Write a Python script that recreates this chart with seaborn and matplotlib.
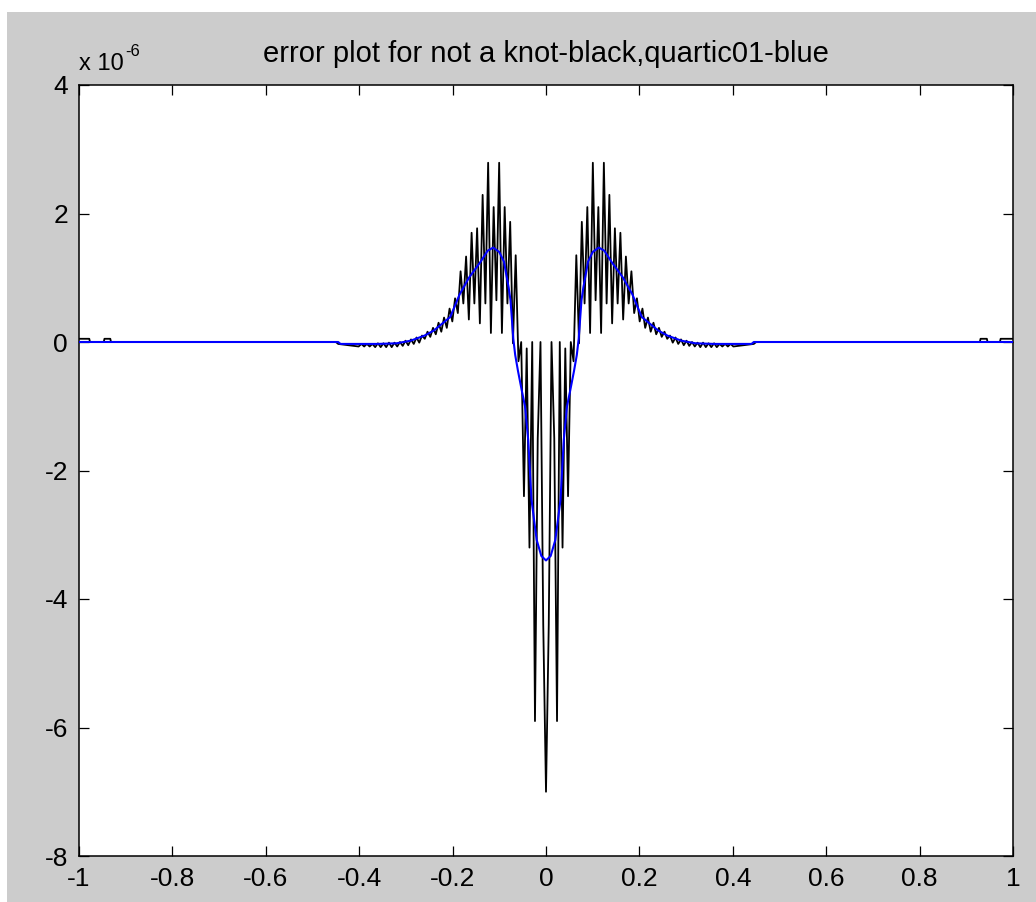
import numpy as np
import pandas as pd
import matplotlib
matplotlib.use("Agg")
import matplotlib.pyplot as plt
from matplotlib.patches import Rectangle
import seaborn as sns

# ---------------- data (error values in units of 1e-6) ----------------
# "not a knot" spline error: outer flat parts
knot_left_x = [-1.0, -0.978, -0.9765, -0.947, -0.9455, -0.933, -0.9315, -0.45, -0.445]
knot_left_y = [0.05, 0.05, 0.0, 0.0, 0.05, 0.05, 0.0, 0.0, -0.03]
knot_right_x = [0.445, 0.45, 0.929, 0.9305, 0.944, 0.9455, 0.972, 0.9735, 0.994, 1.0]
knot_right_y = [-0.03, 0.0, 0.0, 0.05, 0.05, 0.0, 0.0, 0.05, 0.05, 0.05]

# fine sampling of the oscillating core, |x| <= 0.4012
core_lo, core_hi, core_n = -0.4012, 0.4012, 137
knot_core_left = [
    -0.07, -0.03, -0.07, -0.03, -0.07, -0.03,
    -0.08, -0.02, -0.08, -0.02, -0.08, -0.01,
    -0.08, -0.01, -0.07, 0.00, -0.06, 0.02,
    -0.05, 0.04, -0.03, 0.07, -0.01, 0.10,
    0.05, 0.16, 0.08, 0.22, 0.12, 0.30, 0.16, 0.38,
    0.22, 0.52, 0.32, 0.68, 0.45, 1.10, 0.60, 1.33,
    0.35, 1.70, 0.60, 1.77, 0.29, 2.29, 0.60, 2.79,
    0.14, 2.10, 0.65, 2.79, 0.14, 2.10, 0.60, 1.87,
    -0.02, 1.35, -0.30, 0.00, -2.40, -0.10, -3.20, 0.00,
    -5.90, -1.50, 0.00, -4.40,
]
knot_core_mid = [-7.00]
knot_core_right = [
    -4.40, 0.00, -1.50, -5.90,
    0.00, -3.20, -0.10, -2.40, 0.00, -0.30, 1.35, -0.02,
    1.87, 0.60, 2.10, 0.14, 2.79, 0.65, 2.10, 0.14,
    2.79, 0.60, 2.29, 0.29, 1.77, 0.60, 1.70, 0.35,
    1.33, 0.60, 1.10, 0.45, 0.68, 0.32, 0.52, 0.22,
    0.38, 0.16, 0.30, 0.12, 0.22, 0.08, 0.16, 0.05,
    0.10, -0.01, 0.07, -0.03, 0.04, -0.05,
    0.02, -0.06, 0.00, -0.07, -0.01, -0.08,
    -0.01, -0.08, -0.02, -0.08, -0.02, -0.08,
    -0.03, -0.07, -0.03, -0.07, -0.03, -0.07,
]

# quartic01 error (smooth)
quartic_x = [-1.0, -0.445, -0.44, -0.36, -0.32, -0.29, -0.26, -0.24, -0.22, -0.205,
             -0.185, -0.165, -0.14, -0.125, -0.113, -0.10, -0.09, -0.08, -0.076,
             -0.07, -0.066, -0.06, -0.052, -0.045, -0.038, -0.031, -0.02, -0.01, 0.0,
             0.01, 0.02, 0.031, 0.038, 0.045, 0.052, 0.06, 0.066, 0.07, 0.076, 0.08,
             0.09, 0.10, 0.113, 0.125, 0.14, 0.165, 0.185, 0.205, 0.22, 0.24, 0.26,
             0.29, 0.32, 0.36, 0.44, 0.445, 1.0]
quartic_y = [0.0, 0.0, -0.03, -0.03, -0.02, 0.02, 0.10, 0.18, 0.30, 0.39,
             0.74, 1.00, 1.25, 1.42, 1.47, 1.40, 1.25, 0.85, 0.65,
             0.05, -0.20, -0.45, -0.75, -1.00, -1.53, -2.46, -3.08, -3.33, -3.40,
             -3.33, -3.08, -2.46, -1.53, -1.00, -0.75, -0.45, -0.20, 0.05, 0.65, 0.85,
             1.25, 1.40, 1.47, 1.42, 1.25, 1.00, 0.74, 0.39, 0.30, 0.18, 0.10,
             0.02, -0.02, -0.03, -0.03, 0.0, 0.0]

x_ticks = [-1, -0.8, -0.6, -0.4, -0.2, 0, 0.2, 0.4, 0.6, 0.8, 1]
x_tick_labels = ["-1", "-0.8", "-0.6", "-0.4", "-0.2", "0", "0.2", "0.4", "0.6", "0.8", "1"]
y_ticks = [-8, -6, -4, -2, 0, 2, 4]
y_tick_labels = ["-8", "-6", "-4", "-2", "0", "2", "4"]

title_text = "error plot for not a knot-black,quartic01-blue"
scale_base = "x 10"
scale_exp = "-6"

# ---------------- assemble frames ----------------
core_x = np.linspace(core_lo, core_hi, core_n)
knot_df = pd.DataFrame({
    "x": np.concatenate([knot_left_x, core_x, knot_right_x]),
    "err": np.concatenate([knot_left_y, knot_core_left, knot_core_mid,
                           knot_core_right, knot_right_y]),
})
quartic_df = pd.DataFrame({"x": quartic_x, "err": quartic_y})

# ---------------- style ----------------
sns.set_style("ticks")
plt.rcParams["font.family"] = ["Liberation Sans", "DejaVu Sans"]
plt.rcParams["axes.unicode_minus"] = False

W, H = 1036, 902
fig = plt.figure(figsize=(W / 100, H / 100), dpi=100, facecolor="white")
fig.patches.append(Rectangle((7 / W, 0), 1 - 7 / W, (H - 12) / H,
                             transform=fig.transFigure, facecolor="#cccccc",
                             edgecolor="none", zorder=-10))
ax = fig.add_axes([79 / W, 1 - 856 / H, (1013 - 79) / W, (856 - 85) / H])
ax.set_facecolor("white")

sns.lineplot(data=knot_df, x="x", y="err", ax=ax, color="black", lw=1.3,
             sort=False, estimator=None, zorder=2)
sns.lineplot(data=quartic_df, x="x", y="err", ax=ax, color="#0000ff", lw=1.5,
             sort=False, estimator=None, zorder=3)

ax.set_xlim(-1, 1)
ax.set_ylim(-8, 4)
ax.set_xticks(x_ticks)
ax.set_xticklabels(x_tick_labels)
ax.set_yticks(y_ticks)
ax.set_yticklabels(y_tick_labels)
ax.set_xlabel("")
ax.set_ylabel("")
ax.tick_params(axis="both", direction="in", length=7, width=0.9,
               top=True, right=True, labelsize=19, colors="black")
ax.tick_params(axis="x", pad=8)
ax.tick_params(axis="y", pad=8)
for s in ax.spines.values():
    s.set_visible(True)
    s.set_linewidth(1.1)
    s.set_color("black")

ax.set_title(title_text, fontsize=21, pad=16.5, color="black")
# axis multiplier label, MATLAB style
ax.text(0.0, 1.0195, scale_base, transform=ax.transAxes, fontsize=17,
        ha="left", va="baseline", color="black")
ax.text(0.0495, 1.037, scale_exp, transform=ax.transAxes, fontsize=12,
        ha="left", va="baseline", color="black")

fig.savefig("out.png", dpi=100, facecolor=fig.get_facecolor())
